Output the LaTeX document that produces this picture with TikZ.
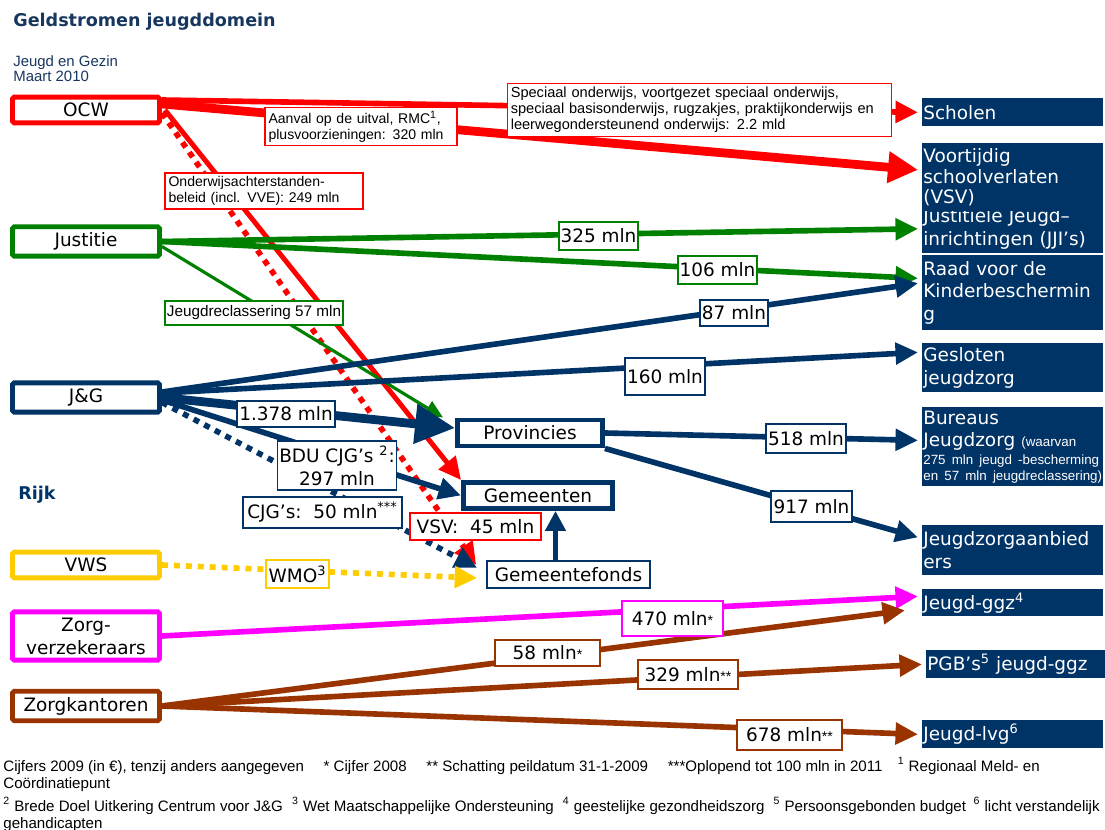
\documentclass[tikz,border=0pt]{standalone}
\usepackage{fontspec}
\setmainfont{Liberation Sans}
\newfontfamily\verd{DejaVu Sans}
\usetikzlibrary{arrows.meta}
\definecolor{dkblue}{HTML}{003366}
\definecolor{ttlblue}{HTML}{17375E}
\definecolor{ocwred}{HTML}{FF0000}
\definecolor{jusgreen}{HTML}{008000}
\definecolor{vwsyellow}{HTML}{FFCC00}
\definecolor{zvmagenta}{HTML}{FF00FF}
\definecolor{zkbrown}{HTML}{993300}
\newcommand{\boxfont}{\verd\fontsize{10.5}{13}\selectfont}
\newcommand{\notefont}{\normalfont\fontsize{8}{9.2}\selectfont}
\newcommand{\tinyfont}{\normalfont\fontsize{7.6}{9}\selectfont}
\newcommand{\fnfont}{\normalfont\fontsize{8.6}{9.6}\selectfont}

\begin{document}
\begin{tikzpicture}[x=0.02cm,y=-0.02cm,
  src/.style={draw=#1,line width=2.8pt,fill=white,minimum width=2.94cm,minimum height=0.5cm,rounded corners=1pt,align=center,font=\boxfont},
  dst/.style={fill=dkblue,text=white,anchor=north west,text width=3.58cm,inner xsep=0.02cm,inner ysep=1pt,align=left,font=\boxfont},
  mid/.style={draw=dkblue,line width=#1,fill=white,font=\boxfont},
  val/.style={draw=#1,fill=white,line width=0.8pt,inner sep=1pt,font=\boxfont},
  note/.style={draw=#1,fill=white,line width=0.8pt,inner sep=2pt,align=left,font=\notefont},
  flow/.style={draw=#1,line width=3.2pt,-{Triangle[length=0.45cm,width=0.42cm]}},
  dots/.style={flow=#1,dash pattern=on 3.4pt off 3.4pt}]
  \useasboundingbox (0,0) rectangle (1105,830);

  % titles
  \node[anchor=west,inner sep=0pt,text=ttlblue,font=\verd\bfseries\fontsize{10}{12}\selectfont] (title) at (13,22) {Geldstromen jeugddomein};
  \node[anchor=north west,inner sep=0pt,align=left,text=ttlblue,font=\fontsize{8.5}{8.5}\selectfont] (sub) at (13,55) {Jeugd en Gezin\\Maart 2010};
  \node[anchor=west,inner sep=0pt,text=dkblue,font=\verd\bfseries\fontsize{10}{12}\selectfont] (rijk) at (18,495) {Rijk};

  % sources
  \node[src=ocwred,minimum height=0.48cm] (ocw) at (86,110) {OCW};
  \node[src=jusgreen,minimum height=0.56cm] (justitie) at (86,241.5) {Justitie};
  \node[src=dkblue,minimum height=0.52cm] (jg) at (86,397.5) {J\&G};
  \node[src=vwsyellow,minimum height=0.5cm] (vws) at (86,565) {VWS};
  \node[src=zvmagenta,minimum height=0.94cm] (zv) at (86,636) {Zorg-\\verzekeraars};
  \node[src=zkbrown,minimum height=0.54cm] (zk) at (86,706) {Zorgkantoren};

  % receivers
  \node[dst,minimum height=0.56cm] (scholen) at (922,98) {Scholen};
  \node[dst,minimum height=0.98cm] (jji) at (922,204) {Justitiële Jeugd–\\inrichtingen (JJI’s)};
  \node[dst,minimum height=1.36cm] (vsv) at (922,143) {Voortijdig\\[-1.5pt]schoolverlaten\\[-1.5pt](VSV)};
  \node[dst,minimum height=1.5cm] (raad) at (922,255) {Raad voor de\\Kinderbeschermin\\g};
  \node[dst,minimum height=0.98cm] (gesloten) at (922,343) {Gesloten\\jeugdzorg};
  \node[dst,minimum height=1.58cm] (bureaus) at (922,407) {Bureaus\\Jeugdzorg {\tinyfont (waarvan}\\[-3pt]{\tinyfont 275 mln jeugd -bescherming}\\[-4pt]{\tinyfont en 57 mln jeugdreclassering)}};
  \node[dst,minimum height=1.0cm] (jza) at (922,525) {Jeugdzorgaanbied\\ers};
  \node[dst,minimum height=0.54cm] (ggz) at (922,589) {Jeugd-ggz\textsuperscript{4}};
  \node[dst,minimum height=0.56cm] (pgb) at (926,650) {PGB’s\textsuperscript{5} jeugd-ggz};
  \node[dst,minimum height=0.56cm] (lvg) at (922,720) {Jeugd-lvg\textsuperscript{6}};

  % provincies and gemeenten
  \node[mid=2.8pt,minimum width=2.9cm,minimum height=0.5cm] (provincies) at (530,433) {Provincies};
  \node[mid=2.8pt,minimum width=2.98cm,minimum height=0.52cm] (gemeenten) at (538,495.5) {Gemeenten};
  \node[mid=0.9pt,minimum width=3.26cm,minimum height=0.54cm] (gemfonds) at (568.5,574.5) {Gemeentefonds};
  \coordinate (fup) at ([xshift=-0.26cm]gemfonds.north);

  % flows
  \draw[flow=ocwred] ([yshift=0.2cm]ocw.east) -- ([xshift=-0.08cm]scholen.west);
  \draw[flow=ocwred,line width=5pt,-{Triangle[length=0.6cm,width=0.6cm]}] ([yshift=0.12cm]ocw.east) -- ([shift={(-0.08cm,0.15cm)}]vsv.west);
  \draw[flow=ocwred,line width=2.8pt] ([xshift=0.06cm]ocw.east) -- (gemeenten.north west);
  \draw[dots=ocwred] ([yshift=-0.06cm]ocw.east) -- ([shift={(-0.2cm,0.19cm)}]gemfonds.west);
  \draw[flow=jusgreen] (justitie.east) -- ([xshift=-0.08cm]jji.west);
  \draw[flow=jusgreen] (justitie.east) -- ([shift={(-0.08cm,0.29cm)}]raad.west);
  \draw[flow=jusgreen,line width=1.8pt,-{Triangle[length=0.36cm,width=0.32cm]}] ([yshift=-0.1cm]justitie.east) -- ([xshift=-0.24cm]provincies.north west);
  \draw[flow=dkblue] ([yshift=0.11cm]jg.east) -- ([shift={(-0.08cm,0.19cm)}]raad.west);
  \draw[flow=dkblue] ([yshift=0.09cm]jg.east) -- ([shift={(-0.08cm,0.31cm)}]gesloten.west);
  \draw[flow=dkblue,line width=5pt,-{Triangle[length=0.8cm,width=0.76cm]}] (jg.east) -- ([yshift=0.1cm]provincies.west);
  \draw[flow=dkblue] ([yshift=-0.05cm]jg.east) -- (gemeenten.west);
  \draw[dots=dkblue] ([yshift=-0.1cm]jg.east) -- ([shift={(-0.18cm,0.13cm)}]gemfonds.west);
  \draw[flow=dkblue] (provincies.east) -- ([shift={(-0.08cm,0.13cm)}]bureaus.west);
  \draw[flow=dkblue] (provincies.south east) -- ([shift={(-0.08cm,0.26cm)}]jza.west);
  \draw[flow=dkblue,line width=2.6pt,-{Triangle[length=0.4cm,width=0.4cm]}] (fup) -- (fup |- gemeenten.south);
  \draw[dots=vwsyellow] (vws.east) -- ([shift={(-0.18cm,-0.07cm)}]gemfonds.west);
  \draw[flow=zvmagenta] (zv.east) -- ([shift={(-0.08cm,0.13cm)}]ggz.west);
  \draw[flow=zkbrown] (zk.east) -- ([shift={(-0.34cm,-0.15cm)}]ggz.west);
  \draw[flow=zkbrown] (zk.east) -- ([xshift=-0.08cm]pgb.west);
  \draw[flow=zkbrown] (zk.east) -- ([xshift=-0.08cm]lvg.west);

  % amounts
  \node[note=ocwred,text width=7.55cm,font=\normalfont\fontsize{8.3}{9.2}\selectfont] (special) at (699.5,110) {Speciaal onderwijs, voortgezet speciaal onderwijs,\\speciaal basisonderwijs, rugzakjes, praktijkonderwijs en\\leerwegondersteunend onderwijs: 2.2 mld};
  \node[note=ocwred,text width=3.7cm] (aanval) at (361,126.5) {Aanval op de uitval, RMC\textsuperscript{1},\\plusvoorzieningen: 320 mln};
  \node[note=ocwred,text width=3.82cm] (oab) at (264,191) {Onderwijsachterstanden-\\beleid (incl. VVE): 249 mln};
  \node[note=jusgreen,minimum width=3.52cm,minimum height=0.48cm,inner sep=1pt,font=\normalfont\fontsize{8.7}{10}\selectfont] (jrecl) at (254,313) {Jeugdreclassering 57 mln};
  \node[val=jusgreen,minimum width=1.54cm,minimum height=0.56cm] (v325) at (598.5,236) {325 mln};
  \node[val=jusgreen,minimum width=1.58cm,minimum height=0.56cm] (v106) at (717.5,270) {106 mln};
  \node[val=dkblue,minimum width=1.36cm,minimum height=0.52cm] (v87) at (734,313) {87 mln};
  \node[val=dkblue,minimum width=1.6cm,minimum height=0.74cm] (v160) at (665,376.5) {160 mln};
  \node[val=dkblue,minimum width=1.96cm,minimum height=0.52cm] (v1378) at (286,414) {1.378 mln};
  \node[val=dkblue,minimum width=2.32cm,minimum height=0.98cm,align=center] (vbdu) at (337,465.5) {BDU CJG’s \textsuperscript{2}:\\297 mln};
  \node[val=dkblue,minimum width=3.18cm,minimum height=0.62cm] (vcjg) at (322.5,512.5) {CJG’s:\ \ 50 mln\textsuperscript{***}};
  \node[val=ocwred,minimum width=2.62cm,minimum height=0.54cm] (vvsv) at (475.5,526.5) {VSV:\ \ 45 mln};
  \node[val=vwsyellow,minimum width=1.26cm,minimum height=0.56cm] (vwmo) at (297.5,574) {WMO\textsuperscript{3}};
  \node[val=dkblue,minimum width=1.6cm,minimum height=0.58cm] (v518) at (806,438.5) {518 mln};
  \node[val=dkblue,minimum width=1.62cm,minimum height=0.62cm] (v917) at (811.5,506.5) {917 mln};
  \node[val=zvmagenta,minimum width=2.02cm,minimum height=0.7cm] (v470) at (672.5,618.5) {470 mln{\notefont *}};
  \node[val=zkbrown,minimum width=2.1cm,minimum height=0.52cm] (v58) at (547.5,653) {58 mln{\notefont *}};
  \node[val=zkbrown,minimum width=2.0cm,minimum height=0.58cm] (v329) at (688,674.5) {329 mln{\notefont **}};
  \node[val=zkbrown,minimum width=2.1cm,minimum height=0.6cm] (v678) at (789.5,735) {678 mln{\notefont **}};

  % footnotes
  \node[anchor=north west,align=left,inner sep=0pt,font=\fnfont] (fn1) at (3,757) {Cijfers 2009 (in €), tenzij anders aangegeven\hspace{1.3em}* Cijfer 2008\hspace{1.3em}** Schatting peildatum 31-1-2009\hspace{1.3em}***Oplopend tot 100 mln in 2011\hspace{1em}\textsuperscript{1} Regionaal Meld- en\\Coördinatiepunt};
  \node[anchor=north west,align=left,inner sep=0pt,font=\fnfont] (fn2) at (3,797) {\textsuperscript{2} Brede Doel Uitkering Centrum voor J\&G\hspace{0.6em}\textsuperscript{3} Wet Maatschappelijke Ondersteuning\hspace{0.6em}\textsuperscript{4} geestelijke gezondheidszorg\hspace{0.6em}\textsuperscript{5} Persoonsgebonden budget\hspace{0.5em}\textsuperscript{6} licht verstandelijk\\gehandicapten};
\end{tikzpicture}
\end{document}
